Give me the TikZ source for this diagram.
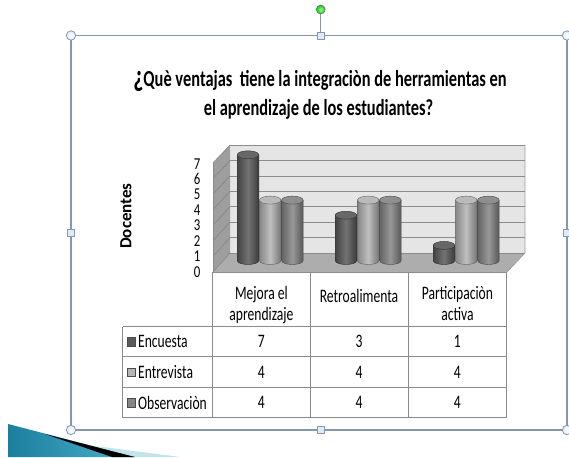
\documentclass[tikz,border=0pt]{standalone}
\usepackage{fontspec}
\setmainfont{Carlito}
\usepackage{graphicx}
\newcommand\vs[1]{\scalebox{1}[1.4]{#1}}
\newcommand\vt[1]{\scalebox{1}[1.3]{#1}}
\definecolor{frameblue}{HTML}{8496B0}
\definecolor{handlefill}{HTML}{DCECF8}
\definecolor{cEnc}{HTML}{5A5A5A}
\definecolor{cEnt}{HTML}{B4B4B4}
\definecolor{cObs}{HTML}{858585}
\definecolor{gridc}{HTML}{8C8C8C}
\definecolor{tablec}{HTML}{8A8A8A}
\definecolor{tealA}{HTML}{1C7F9E}
\definecolor{tealB}{HTML}{4BB0CF}
\newcommand\cylbar[3]{%
  \pgfmathsetmacro\cyt{260.5-15.1*#2}
  \shade[left color=#3!75!black, right color=#3!65!black, middle color=#3!85!white,
         draw=#3!55!black, line width=0.4]
    (#1-10.8,\cyt) -- (#1-10.8,260.5) .. controls (#1-10.8,265.8) and (#1+10.8,265.8) .. (#1+10.8,260.5)
    -- (#1+10.8,\cyt) -- cycle;
  \filldraw[fill=#3!92!white, draw=#3!55!black, line width=0.4] (#1,\cyt) ellipse [x radius=10.8, y radius=4];
}
\begin{document}
\begin{tikzpicture}[x=1pt,y=-1pt,
  txt/.style={font=\fontsize{13.6}{14.3}\selectfont, inner sep=0pt},
  ticktxt/.style={font=\fontsize{12.8}{13}\selectfont, inner sep=0pt},
  handle/.style={draw=frameblue, line width=0.8, inner color=white, outer color=handlefill},
  sqhandle/.style={draw=frameblue, line width=0.8, fill=handlefill, minimum size=7pt, inner sep=0pt},
  tline/.style={draw=tablec, line width=1},
  legsq/.style={draw=black!70, line width=0.5, minimum width=7.5pt, minimum height=8.5pt, inner sep=0pt}]
\useasboundingbox (0,0) rectangle (569,457);
\fill[white] (0,0) rectangle (569,457);

% blue decorative shape bottom-left
\shade[left color=tealA, right color=tealB] (8,424) -- (135,457) -- (8,457) -- cycle;
\fill[white!65!tealB] (95,446) -- (180,457) -- (135,457) -- cycle;
\fill[black] (45,434) -- (135,457) -- (112,457) -- cycle;

% selection frame
\draw[frameblue, line width=1.3] (71,35.5) rectangle (567,430);
\draw[frameblue, line width=1] (320.7,14) -- (320.7,32);
\node[circle, minimum size=9pt, inner sep=0pt, draw=green!40!black!70, line width=0.6, inner color=green!40!white, outer color=green!65!black!85] (rot) at (320.7,9.5) {};
\node[circle, minimum size=9pt, handle] (h1) at (71,35.5) {};
\node[circle, minimum size=9pt, handle] (h2) at (567,35.5) {};
\node[circle, minimum size=9pt, handle] (h3) at (71,430) {};
\node[circle, minimum size=9pt, handle] (h4) at (567,430) {};
\node[sqhandle] (s1) at (320.7,35.5) {};
\node[sqhandle] (s2) at (320.7,430) {};
\node[sqhandle] (s3) at (71,233) {};
\node[sqhandle] (s4) at (567,233) {};

% title
\node[font=\bfseries\fontsize{16.4}{17}\selectfont, inner sep=0pt, anchor=base] (t1) at (320,87)
  {\vs{{\fontsize{22}{22}\selectfont ¿}Què ventajas\ \ tiene la integraciòn de herramientas en}};
\node[font=\bfseries\fontsize{16.4}{17}\selectfont, inner sep=0pt, anchor=base] (t2) at (318.5,116)
  {\vs{el aprendizaje de los estudiantes?}};

% chart walls
\fill[black!10] (230,145) rectangle (525,253);
\fill[black!38] (213,163) -- (230,145) -- (230,253) -- (213,272) -- cycle;
\fill[black!32] (213,272) -- (230,253) -- (525,253) -- (507,272) -- cycle;
\foreach \k in {0,...,7}{
  \draw[gridc, line width=0.9] (230,253-15.4*\k) -- (525,253-15.4*\k);
  \draw[black!48, line width=0.6] (213,272-15.6*\k) -- (230,253-15.4*\k);
}
\draw[black!40, line width=0.6] (525,145) -- (525,253) -- (507,272);
\draw[black!45, line width=0.6] (213,163) -- (213,272) -- (507,272);

% bars
\cylbar{248}{7}{cEnc}
\cylbar{270.2}{4}{cEnt}
\cylbar{292.4}{4}{cObs}
\cylbar{346}{3}{cEnc}
\cylbar{368.2}{4}{cEnt}
\cylbar{390.4}{4}{cObs}
\cylbar{444}{1}{cEnc}
\cylbar{466.2}{4}{cEnt}
\cylbar{488.4}{4}{cObs}

% axis labels
\foreach \k in {0,...,7}{
  \node[ticktxt, anchor=center] (y\k) at (197,271.7-15.41*\k) {\vt{\k}};
}
\node[font=\bfseries\fontsize{17}{17}\selectfont, rotate=90, inner sep=0pt] (ylab) at (126,216) {Docentes};

% table
\draw[tline] (212.7,272) -- (212.7,417.7);
\draw[tline] (310,272) -- (310,417.7);
\draw[tline] (408,272) -- (408,417.7);
\draw[tline] (506.7,272) -- (506.7,417.7);
\draw[tline] (122.7,326.7) -- (122.7,417.7);
\foreach \yy in {326.7,356.7,387.7,417.7}{ \draw[tline] (122.7,\yy) -- (506.7,\yy); }

\node[txt, align=center] (c1) at (261.4,306) {\vs{\begin{tabular}{@{}c@{}}Mejora el\\aprendizaje\end{tabular}}};
\node[txt] (c2) at (359,296) {\vs{Retroalimenta}};
\node[txt, align=center] (c3) at (457.4,306) {\vs{\begin{tabular}{@{}c@{}}Participaciòn\\activa\end{tabular}}};

\node[legsq, fill=cEnc] (l1) at (131,341.7) {};
\node[legsq, fill=cEnt] (l2) at (131,372) {};
\node[legsq, fill=cObs] (l3) at (131,402.7) {};
\node[txt, anchor=west] (r1) at (138,341.7) {\vs{Encuesta}};
\node[txt, anchor=west] (r2) at (138,372) {\vs{Entrevista}};
\node[txt, anchor=west] (r3) at (138,402.7) {\vs{Observaciòn}};

\node[txt] (v11) at (261.4,341.7) {\vs{7}};
\node[txt] (v12) at (359,341.7) {\vs{3}};
\node[txt] (v13) at (457.4,341.7) {\vs{1}};
\node[txt] (v21) at (261.4,372) {\vs{4}};
\node[txt] (v22) at (359,372) {\vs{4}};
\node[txt] (v23) at (457.4,372) {\vs{4}};
\node[txt] (v31) at (261.4,402.7) {\vs{4}};
\node[txt] (v32) at (359,402.7) {\vs{4}};
\node[txt] (v33) at (457.4,402.7) {\vs{4}};
\end{tikzpicture}
\end{document}
